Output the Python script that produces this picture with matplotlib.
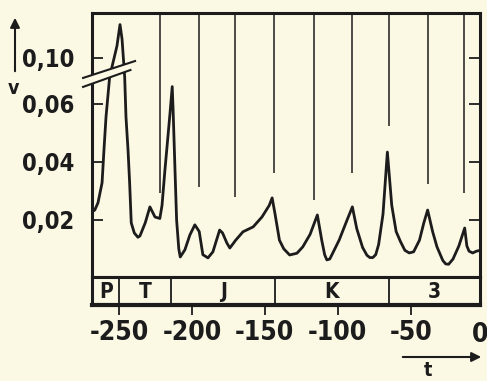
import numpy as np
import matplotlib
matplotlib.use("Agg")
import matplotlib.pyplot as plt
from matplotlib.patches import Polygon

# curve (time in Ma, value v)
t = [-268.5, -266.6, -264.4, -261.6, -260.3, -258.9, -256.4, -251.4, -249.3, -247.9,
     -246.1, -245.2, -243.8, -242.7, -241.6, -239.5, -237, -235.6, -232, -228.8,
     -225.3, -222, -220.5, -218.5, -215, -213.5, -212.9, -211.6, -210.5, -209,
     -208, -204.8, -201.4, -198, -195, -192.5, -189, -185.6, -181, -179,
     -176, -174, -170, -165, -158, -152, -147, -145, -143, -140,
     -137, -133, -128, -124, -119, -114, -111, -109, -107.5, -105.5,
     -104, -99, -94, -90, -87, -83, -80, -78, -76, -74,
     -72, -69, -66, -63, -60, -57, -54, -51, -48, -44,
     -41, -38.4, -35, -32, -28, -26, -24, -21, -17, -13,
     -11.5, -10, -7.5, -5, -2.5]
v = [0.0228, 0.0234, 0.0259, 0.0328, 0.0441, 0.0555, 0.0694, 0.120, 0.157, 0.132,
     0.0694, 0.0555, 0.0441, 0.0328, 0.019, 0.0155, 0.014, 0.0145, 0.019, 0.0245,
     0.021, 0.0205, 0.025, 0.0372, 0.0569, 0.066, 0.058, 0.0372, 0.020, 0.010,
     0.0072, 0.0097, 0.0148, 0.0183, 0.016, 0.008, 0.0069, 0.009, 0.0165, 0.0155,
     0.012, 0.0103, 0.013, 0.0159, 0.0176, 0.021, 0.025, 0.0276, 0.022, 0.013,
     0.010, 0.0079, 0.0085, 0.0107, 0.015, 0.0217, 0.013, 0.008, 0.0062, 0.0065,
     0.008, 0.0131, 0.0195, 0.0245, 0.017, 0.0105, 0.0078, 0.007, 0.007, 0.008,
     0.0115, 0.022, 0.0434, 0.025, 0.016, 0.0125, 0.0095, 0.0086, 0.009, 0.013,
     0.019, 0.0234, 0.016, 0.0107, 0.006, 0.0048, 0.0047, 0.0065, 0.011, 0.0172,
     0.011, 0.0092, 0.0086, 0.0092, 0.0095]

# vertical event lines: position and lower end
line_t = [-221.9, -195.2, -170.5, -143.6, -116.2, -90.0, -64.9, -38.2, -13.8]
line_bottom = [0.0292, 0.0315, 0.0280, 0.0361, 0.0269, 0.0361, 0.0524, 0.0324, 0.0294]

period_edges = [-250, -214, -143, -65]
period_centres = [-259, -232, -178.5, -104, -34]
period_names = ["P", "T", "J", "K", "3"]

xticks = [-250, -200, -150, -100, -50]
xtick_labels = ["-250", "-200", "-150", "-100", "-50"]
yticks = [0.02, 0.04, 0.06, 0.10]
ytick_labels = ["0,02", "0,04", "0,06", "0,10"]

bg = "#fbf8e4"
ink = "#1c1c1c"
font = dict(family="DejaVu Sans", weight="bold", stretch="condensed")


# axis is broken above 0.07, the upper part is squeezed
def fwd(y):
    y = np.asarray(y, dtype=float)
    return np.where(y <= 0.07, y, 0.07 + (y - 0.07) * 0.2)


def inv(y):
    y = np.asarray(y, dtype=float)
    return np.where(y <= 0.07, y, 0.07 + (y - 0.07) / 0.2)


fig = plt.figure(figsize=(4.87, 3.81), dpi=100, facecolor=bg)
ax = fig.add_axes([92 / 487, 104 / 381, 388 / 487, 264 / 381], facecolor=bg)
strip = fig.add_axes([92 / 487, 76 / 381, 388 / 487, 28 / 381], facecolor=bg)

ax.set_yscale("function", functions=(fwd, inv))
ax.plot(t, v, color=ink, lw=2.0, solid_joinstyle="round")
ax.vlines(line_t, line_bottom, 0.177, color=ink, lw=1.1)
ax.set_xlim(-268.5, -2.5)
ax.set_ylim(0.0003, 0.177)
ax.set_xticks([])
ax.set_yticks(yticks)
ax.set_yticklabels(ytick_labels, fontsize=17, **font)
ax.tick_params(axis="y", direction="in", length=8, width=1.3, left=True, right=True,
               pad=13, colors=ink)
ax.yaxis.set_minor_locator(plt.NullLocator())
for s in ax.spines.values():
    s.set_linewidth(2.2)
    s.set_color(ink)

# break marks
brk = [(-0.023, 0.754), (0.111, 0.818), (0.099, 0.784), (-0.023, 0.720)]
ax.add_patch(Polygon(brk, closed=True, transform=ax.transAxes, facecolor=bg,
                     edgecolor="none", clip_on=False, zorder=10))
ax.plot([-0.023, 0.111], [0.754, 0.818], transform=ax.transAxes, color=ink, lw=1.5,
        clip_on=False, zorder=11)
ax.plot([-0.023, 0.099], [0.720, 0.784], transform=ax.transAxes, color=ink, lw=1.5,
        clip_on=False, zorder=11)

# period strip
strip.set_xlim(-268.5, -2.5)
strip.set_ylim(0, 1)
strip.set_yticks([])
strip.vlines(period_edges, 0, 1, color=ink, lw=1.3)
for x, name in zip(period_centres, period_names):
    strip.text(x, 0.45, name, ha="center", va="center", fontsize=15, color=ink, **font)
strip.set_xticks(xticks)
strip.set_xticklabels(xtick_labels, fontsize=19, **font)
strip.tick_params(axis="x", direction="out", length=7, width=1.3, pad=4, colors=ink)
strip.text(-2.5, -0.62, "0", transform=strip.get_xaxis_transform(), ha="center",
           va="top", fontsize=19, color=ink, clip_on=False, **font)
for s in strip.spines.values():
    s.set_linewidth(2.2)
    s.set_color(ink)
strip.spines["bottom"].set_linewidth(3)

# axis arrows and symbols
ax.annotate("", xy=(15, 366), xytext=(15, 307), xycoords="figure pixels",
            textcoords="figure pixels",
            arrowprops=dict(arrowstyle="-|>", color=ink, lw=1.5, mutation_scale=14))
fig.text(13 / 487, 293 / 381, "v", ha="center", va="center", fontsize=14, color=ink, **font)
ax.annotate("", xy=(484, 24), xytext=(400, 24), xycoords="figure pixels",
            textcoords="figure pixels",
            arrowprops=dict(arrowstyle="-|>", color=ink, lw=1.5, mutation_scale=14))
fig.text(428 / 487, 11 / 381, "t", ha="center", va="center", fontsize=14, color=ink, **font)

fig.savefig("out.png", dpi=100, facecolor=bg)
